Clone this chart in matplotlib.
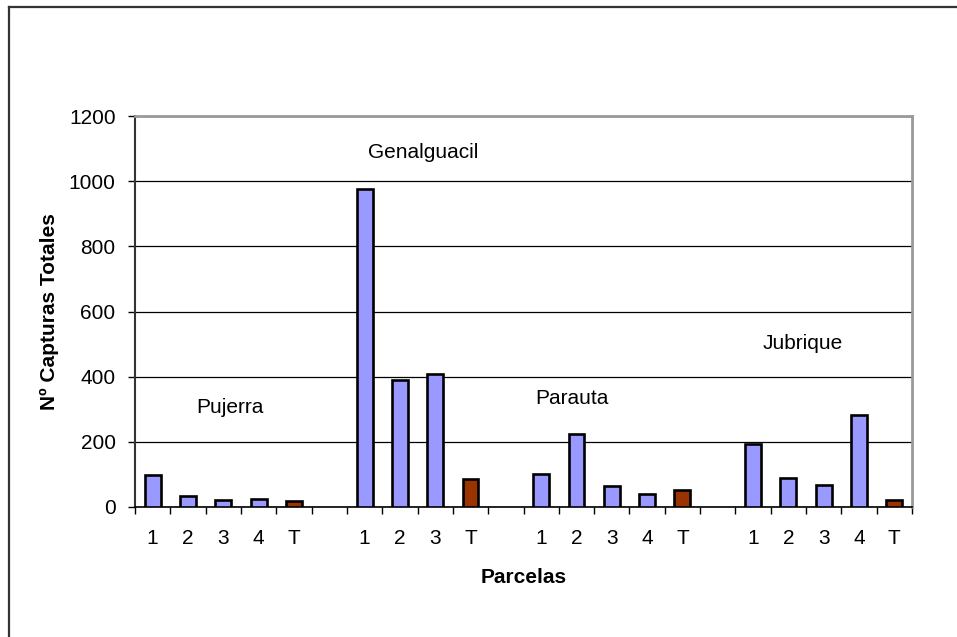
import numpy as np
import matplotlib.pyplot as plt
from matplotlib.lines import Line2D

plt.rcParams['font.family'] = ['Liberation Sans', 'DejaVu Sans']

# tick labels for each slot ('' = gap between sites)
tick_labels = ['1', '2', '3', '4', 'T', '',
               '1', '2', '3', 'T', '',
               '1', '2', '3', '4', 'T', '',
               '1', '2', '3', '4', 'T']
# captures per plot (None = empty slot)
capturas = [98, 34, 23, 24, 19, None,
            975, 390, 408, 87, None,
            101, 223, 65, 40, 52, None,
            193, 90, 69, 282, 23]
sites = ['Pujerra', 'Genalguacil', 'Parauta', 'Jubrique']
site_x = [2.2, 7.66, 11.87, 18.41]
site_y = [304, 1089, 334, 503]

blue = '#9999FF'
brown = '#993300'

fig = plt.figure(figsize=(9.57, 6.37), dpi=100)
ax = fig.add_axes([135/957, 1-507/637, 777/957, 391/637])

x = np.arange(len(tick_labels))
for i, v in enumerate(capturas):
    if v is None:
        continue
    c = brown if tick_labels[i] == 'T' else blue
    ax.bar(x[i], v, width=0.45, color=c, edgecolor='black', linewidth=1.9, zorder=3)

ax.set_xlim(-0.5, len(tick_labels) - 0.5)
ax.set_ylim(0, 1200)
ax.set_yticks(np.arange(0, 1201, 200))
ax.yaxis.grid(True, color='black', linewidth=0.9)
ax.set_axisbelow(True)

ax.set_xticks(x)
ax.set_xticklabels(tick_labels)
ax.set_xticks(np.arange(-0.5, len(tick_labels)), minor=True)
ax.tick_params(axis='x', which='major', length=0, pad=16, labelsize=15)
ax.tick_params(axis='x', which='minor', length=5, width=1, direction='out', color='black')
ax.tick_params(axis='y', length=5, width=1, pad=9, labelsize=15)

ax.spines['top'].set_color('#999999')
ax.spines['right'].set_color('#999999')
ax.spines['top'].set_linewidth(2)
ax.spines['right'].set_linewidth(2)
ax.spines['left'].set_color('#333333')
ax.spines['left'].set_linewidth(1.5)
ax.spines['bottom'].set_color('black')
ax.spines['bottom'].set_linewidth(1.2)

for s, sx, sy in zip(sites, site_x, site_y):
    ax.text(sx, sy, s, ha='center', va='center', fontsize=15)

ax.set_xlabel('Parcelas', fontsize=15, fontweight='bold', labelpad=14)
ax.set_ylabel('Nº Capturas Totales', fontsize=15, fontweight='bold', labelpad=7)

# outer frame (only top and left edges visible)
fig.add_artist(Line2D([8.5/957, 1], [1-7/637, 1-7/637], transform=fig.transFigure,
                      color='#333333', linewidth=1.6))
fig.add_artist(Line2D([8.5/957, 8.5/957], [0, 1-7/637], transform=fig.transFigure,
                      color='#333333', linewidth=1.6))

fig.savefig('out.png', dpi=100)
